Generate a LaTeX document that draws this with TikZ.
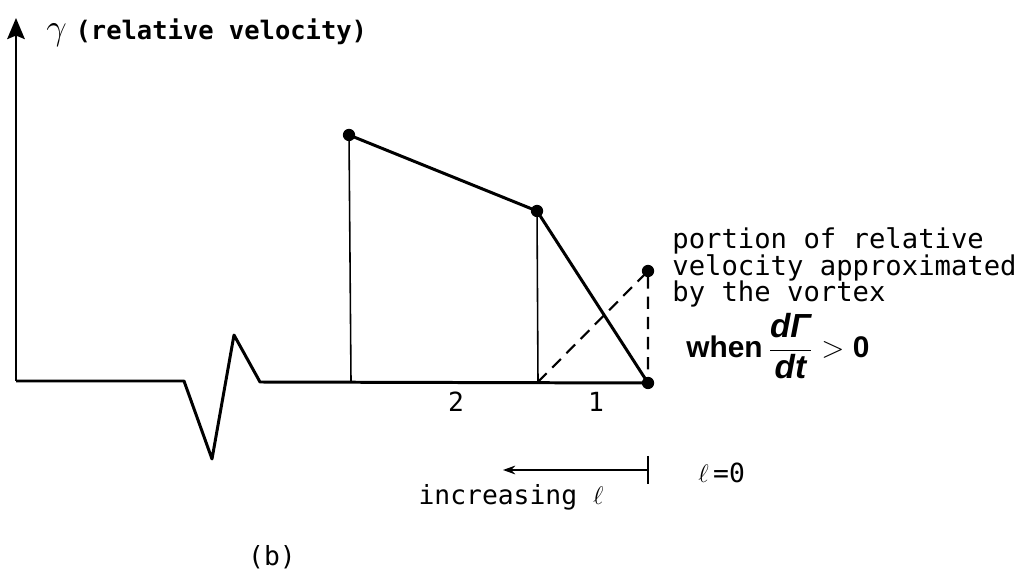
\documentclass[tikz,border=0pt]{standalone}
\usepackage{fontspec}
\setmainfont{DejaVu Sans Mono}
\newfontfamily\labelsans{Liberation Sans}
\usepackage{tikz}
\usetikzlibrary{calc, positioning, arrows.meta}

\tikzset{
  curve/.style={line width=1.7pt, line join=round},
  riser/.style={line width=0.9pt},
  guide/.style={line width=1.2pt, dash pattern=on 7pt off 4.5pt},
  knot/.style={circle, fill, inner sep=0pt, minimum size=7pt},
  typed/.style={font=\fontsize{15}{18}\selectfont, inner sep=0pt},
}

\begin{document}
\begin{tikzpicture}[>=Stealth, x=0.02cm, y=-0.02cm]
  \useasboundingbox (0,0) rectangle (1027,573);

  % axis and base line
  \coordinate (o) at (16,381);
  \coordinate (top) at (16,18);
  \coordinate (wA) at (184,381);
  \coordinate (wB) at (212,459);
  \coordinate (wC) at (234,335);
  \coordinate (wD) at (260,382);
  \coordinate (end) at (648,383);

  \draw[line width=1.3pt, -{Stealth[length=12pt, width=10pt, inset=2pt]}] (o) -- (top);
  \draw[curve] (o) -- (wA) -- (wB) -- (wC) -- (wD) -- (end);

  % vortex points
  \node[knot] (p1) at (349,135) {};
  \node[knot] (p2) at (537,211) {};
  \node[knot] (p3) at (648,383) {};
  \node[knot] (q) at (648,271) {};
  \coordinate (f1) at (351,381);
  \coordinate (f2) at (538,382);

  \draw[riser] (p1.center) -- (f1);
  \draw[riser] (p2.center) -- (f2);
  \draw[curve] (p1.center) -- (p2.center) -- (p3.center);

  % portion approximated by the vortex
  \draw[guide] (f2) -- (q.center) -- (p3.center);

  \node[typed] (n2) at (456,402) {2};
  \node[typed] (n1) at (596,402) {1};

  % l = 0 marker
  \coordinate (tk) at (648,470);
  \draw[line width=1pt] (648,456) -- (648,484);
  \coordinate (tail) at (503,470);
  \draw[line width=1pt, -{Stealth[length=7pt, width=5pt]}] (tk) -- (tail);
  \node[typed, anchor=west] (zero) at (698,473) {$\ell$\,=0};
  \node[typed] (incr) at (511,497) {increasing $\ell$};

  % labels
  \node[typed, anchor=base west, font=\fontsize{14.5}{18}\selectfont\bfseries] (ylab) at (46,40)
    {{\fontsize{20}{20}\selectfont$\gamma$}\hspace{5pt}(relative velocity)};
  \node[typed, anchor=base west, align=left, font=\fontsize{15.5}{15.2}\selectfont]
    (note) at (672,302)
    {portion of relative\\velocity approximated\\by the vortex};
  \node[anchor=base west, inner sep=0pt, font=\labelsans\bfseries\fontsize{17}{20}\selectfont]
    (when) at (686,358)
    {when\hspace{3pt}$\displaystyle\frac{\textit{\fontsize{19}{20}\selectfont dΓ}}{\textit{\fontsize{19}{20}\selectfont dt}}\;{>}\;\mbox{0}$};
  \node[typed] (tag) at (272,557) {(b)};
\end{tikzpicture}
\end{document}
